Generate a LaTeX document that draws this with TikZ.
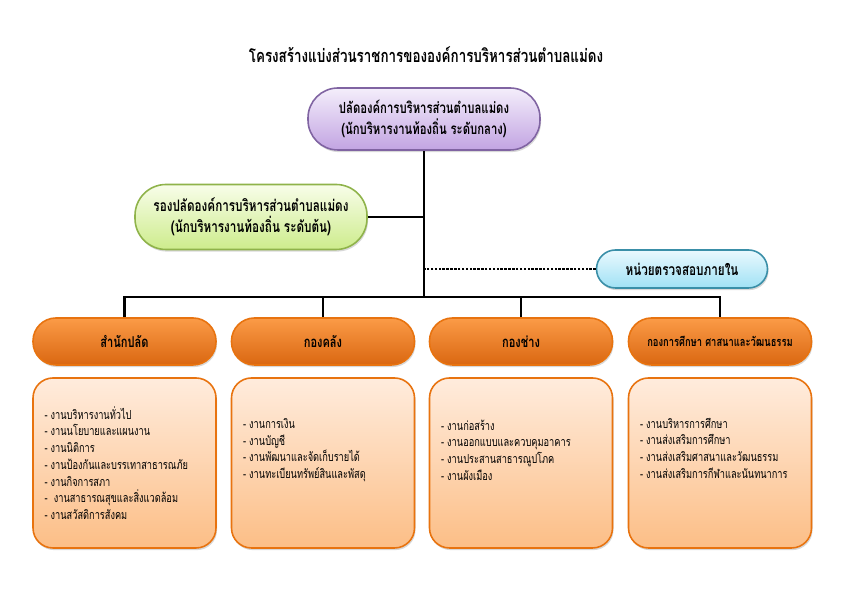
\documentclass[tikz,border=0pt]{standalone}
\usepackage{fontspec}
\setmainfont[Script=Thai, FakeStretch=0.74]{Loma}
\usetikzlibrary{shadows}

\definecolor{purpleTop}{HTML}{F4EEFB}
\definecolor{purpleBot}{HTML}{C2A4E2}
\definecolor{purpleLine}{HTML}{8064A2}
\definecolor{greenTop}{HTML}{F8FDE9}
\definecolor{greenBot}{HTML}{CDEC8C}
\definecolor{greenLine}{HTML}{8FB34A}
\definecolor{blueTop}{HTML}{EAF9FE}
\definecolor{blueBot}{HTML}{A0E1F5}
\definecolor{blueLine}{HTML}{3A8FA8}
\definecolor{orangeTop}{HTML}{FB9B47}
\definecolor{orangeBot}{HTML}{DA6711}
\definecolor{orangeLine}{HTML}{E8730F}
\definecolor{peachTop}{HTML}{FFECDD}
\definecolor{peachBot}{HTML}{FCBE86}

\begin{document}
\begin{tikzpicture}[
			pill/.style={draw, line width=0.9pt, align=center, inner sep=0,
				drop shadow={shadow xshift=0.6pt, shadow yshift=-1.2pt, opacity=0.3}},
			chiefbox/.style={pill, top color=purpleTop, bottom color=purpleBot, draw=purpleLine,
				minimum width=4.64cm, minimum height=1.24cm, rounded corners=0.6cm,
				font=\fontsize{8.7}{12}\selectfont\bfseries},
			deputybox/.style={pill, top color=greenTop, bottom color=greenBot, draw=greenLine,
				minimum width=4.64cm, minimum height=1.3cm, rounded corners=0.62cm,
				font=\fontsize{9}{12}\selectfont\bfseries},
			auditbox/.style={pill, top color=blueTop, bottom color=blueBot, draw=blueLine,
				minimum width=3.42cm, minimum height=0.76cm, rounded corners=0.38cm,
				font=\fontsize{9}{11}\selectfont\bfseries},
			divbox/.style={pill, top color=orangeTop, bottom color=orangeBot, draw=orangeLine,
				minimum width=3.66cm, minimum height=0.94cm, rounded corners=0.46cm,
				font=\fontsize{8.5}{10}\selectfont\bfseries},
			listbox/.style={pill, top color=peachTop, bottom color=peachBot, draw=orangeLine,
				minimum width=3.66cm, minimum height=3.4cm, rounded corners=0.4cm},
			listtext/.style={anchor=west, align=left, inner sep=0,
				font=\fontsize{7.1}{9.5}\selectfont},
			tree/.style={line width=1.2pt},
		]
			\useasboundingbox[fill=white] (0,0) rectangle (17,11.9);
			\node[font=\fontsize{10.3}{13}\selectfont\bfseries] (title) at (8.52,10.8)
				{โครงสร้างแบ่งส่วนราชการขององค์การบริหารส่วนตำบลแม่ดง};

			% top of the chart
			\node[chiefbox] (chief) at (8.48,9.52)
				{ปลัดองค์การบริหารส่วนตำบลแม่ดง\\(นักบริหารงานท้องถิ่น ระดับกลาง)};
			\node[deputybox] (deputy) at (5.02,7.56)
				{รองปลัดองค์การบริหารส่วนตำบลแม่ดง\\(นักบริหารงานท้องถิ่น ระดับต้น)};
			\node[auditbox] (audit) at (13.64,6.52) {หน่วยตรวจสอบภายใน};
			\coordinate (junction) at (8.48,5.96);

			% divisions
			\node[divbox] (office) at (2.49,5.07) {สำนักปลัด};
			\node[divbox] (finance) at (6.46,5.07) {กองคลัง};
			\node[divbox] (works) at (10.42,5.07) {กองช่าง};
			\node[divbox, font=\fontsize{7.2}{9}\selectfont\bfseries] (education) at (14.4,5.07)
				{กองการศึกษา ศาสนาและวัฒนธรรม};

			% duties
			\node[listbox] (officeList) at (2.49,2.64) {};
			\node[listbox] (financeList) at (6.46,2.64) {};
			\node[listbox] (worksList) at (10.42,2.64) {};
			\node[listbox] (educationList) at (14.4,2.64) {};
			\node[listtext] (officeText) at ([xshift=0.24cm]officeList.west)
				{- งานบริหารงานทั่วไป\\- งานนโยบายและแผนงาน\\- งานนิติการ\\- งานป้องกันและบรรเทาสาธารณภัย\\- งานกิจการสภา\\-~ งานสาธารณสุขและสิ่งแวดล้อม\\- งานสวัสดิการสังคม};
			\node[listtext] (financeText) at ([xshift=0.24cm, yshift=0.26cm]financeList.west)
				{- งานการเงิน\\- งานบัญชี\\- งานพัฒนาและจัดเก็บรายได้\\- งานทะเบียนทรัพย์สินและพัสดุ};
			\node[listtext] (worksText) at ([xshift=0.24cm, yshift=0.26cm]worksList.west)
				{- งานก่อสร้าง\\- งานออกแบบและควบคุมอาคาร\\- งานประสานสาธารณูปโภค\\- งานผังเมือง};
			\node[listtext] (educationText) at ([xshift=0.24cm, yshift=0.3cm]educationList.west)
				{- งานบริหารการศึกษา\\- งานส่งเสริมการศึกษา\\- งานส่งเสริมศาสนาและวัฒนธรรม\\- งานส่งเสริมการกีฬาและนันทนาการ};

			% connectors
			\draw[tree] (chief.south) -- (junction);
			\draw[tree] (deputy.east) -- (deputy.east -| chief.south);
			\draw[line width=1.6pt, dash pattern=on 1.4pt off 0.8pt] (audit.west) -- (audit.west -| chief.south);
			\draw[tree] (office.north) |- (junction) -| (education.north);
			\draw[tree] (finance.north) -- (finance.north |- junction);
			\draw[tree] (works.north) -- (works.north |- junction);
		\end{tikzpicture}
\end{document}
